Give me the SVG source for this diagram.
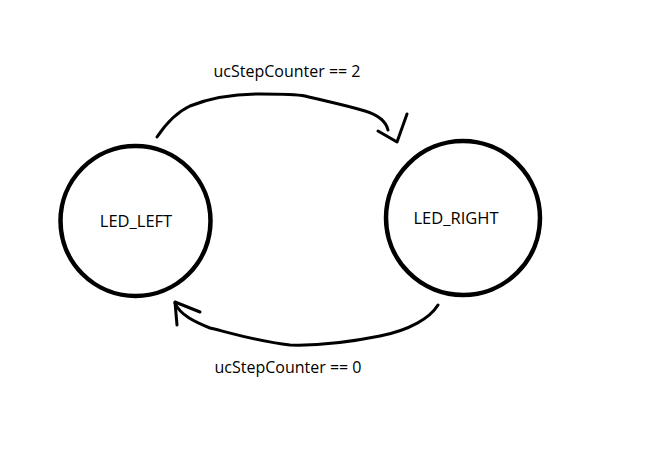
<svg xmlns="http://www.w3.org/2000/svg" width="652" height="463" viewBox="0 0 652 463">
<style>
.st{fill:#fff;stroke:#000;stroke-width:4.5}
.c{fill:none;stroke:#000;stroke-width:3;stroke-linecap:round;stroke-linejoin:round}
text{font-family:"Open Sans","Liberation Sans",sans-serif;font-size:16px;fill:#000}
.n{font-size:16.5px}
</style>
<rect width="652" height="463" fill="#fff"/>
<g id="connectors">
<path class="c" d="M157,137 C165,125 175,113 190,106 C205,100 230,94 260,94 C280,94 295,94 305,96 C325,101 345,105 365,111 C378,115 386,121 388,130"/>
<path class="c" d="M378,131 L397,142 L407,114"/>
<path class="c" d="M438,305 C430,318 410,330 380,336 C350,342 320,346 290,345 C260,342 235,334 210,328 C195,322 180,315 175,303"/>
<path class="c" d="M200,312 L175,302 L177,325"/>
</g>
<g id="LED_LEFT">
<circle class="st" cx="135.5" cy="221" r="75"/>
<text class="n" x="136" y="227" text-anchor="middle">LED_LEFT</text>
</g>
<g id="LED_RIGHT">
<circle class="st" cx="463" cy="218" r="77"/>
<text class="n" x="456" y="224" text-anchor="middle">LED_RIGHT</text>
</g>
<g id="labels">
<text x="287" y="77" text-anchor="middle">ucStepCounter == 2</text>
<text x="288" y="373" text-anchor="middle">ucStepCounter == 0</text>
</g>
</svg>
